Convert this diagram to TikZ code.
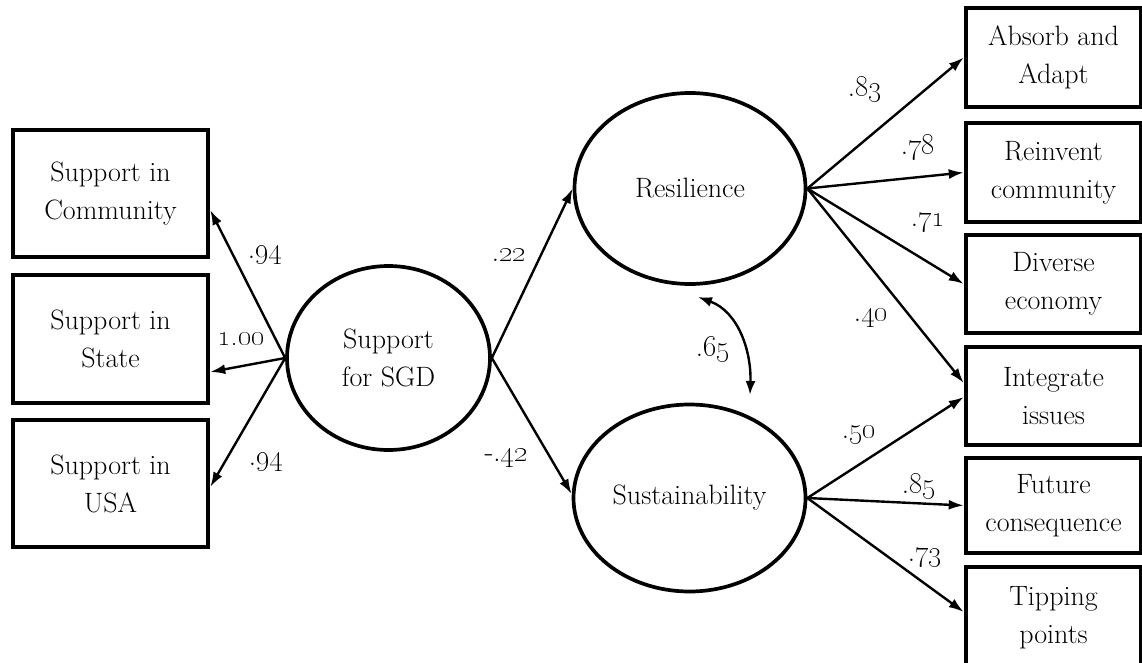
\documentclass[tikz,border=0pt]{standalone}
\usetikzlibrary{arrows.meta,shapes.geometric}
\newcommand{\osn}[1]{\oldstylenums{#1}}
\begin{document}
\begin{tikzpicture}[x=1pt,y=-1pt,
  txt/.style={font=\fontsize{28}{38}\selectfont, align=center},
  obs/.style={txt, draw, line width=4.5pt, rectangle, inner sep=0pt},
  lat/.style={txt, draw, line width=3.7pt, ellipse, inner sep=0pt},
  arr/.style={line width=2.4pt, -{Latex[length=15pt,width=10pt]}},
  darr/.style={line width=2.4pt, {Latex[length=14pt,width=10pt]}-{Latex[length=14pt,width=10pt]}},
  lab/.style={font=\fontsize{29}{30}\selectfont, inner sep=0pt}]
\useasboundingbox (0,0) rectangle (1142,663);
\clip (0,0) rectangle (1142,663);
% left indicators
\node[obs, minimum width=195pt, minimum height=127pt] (com) at (110.5,193.5) {Support in\\Community};
\node[obs, minimum width=195pt, minimum height=128pt] (sta) at (110.5,339) {Support in\\State};
\node[obs, minimum width=195pt, minimum height=127pt] (usa) at (110.5,483.5) {Support in\\USA};
% latent variables
\node[lat, minimum width=203pt, minimum height=184pt] (sgd) at (388.5,358) {Support\\for SGD};
\node[lat, minimum width=231pt, minimum height=191pt] (res) at (690,188.5) {Resilience};
\node[lat, minimum width=232pt, minimum height=187pt] (sus) at (689.5,498) {Sustainability};
% right indicators
\node[obs, minimum width=175pt, minimum height=99pt] (abs) at (1053.5,57.5) {Absorb and\\Adapt};
\node[obs, minimum width=175pt, minimum height=99pt] (rei) at (1053.5,172.5) {Reinvent\\community};
\node[obs, minimum width=175pt, minimum height=98pt] (div) at (1053.5,284) {Diverse\\economy};
\node[obs, minimum width=175pt, minimum height=98pt] (int) at (1053.5,396) {Integrate\\issues};
\node[obs, minimum width=175pt, minimum height=95pt] (fut) at (1053.5,505.5) {Future\\consequence};
\node[obs, minimum width=175pt, minimum height=101pt] (tip) at (1053.5,617.5) {Tipping\\points};
% measurement arrows (left)
\draw[arr] (sgd.west) -- ([yshift=-16.5pt]com.east);
\draw[arr] (sgd.west) -- ([yshift=-33pt]sta.east);
\draw[arr] (sgd.west) -- ([yshift=-3.5pt]usa.east);
% structural arrows
\draw[arr] (sgd.east) -- (res.west);
\draw[arr] (sgd.east) -- ([yshift=4pt]sus.west);
% resilience indicators
\draw[arr] (res.east) -- (abs.west);
\draw[arr] (res.east) -- (rei.west);
\draw[arr] (res.east) -- (div.west);
\draw[arr] (res.east) -- ([yshift=13pt]int.west);
% sustainability indicators
\draw[arr] (sus.east) -- ([yshift=-1pt]int.west);
\draw[arr] (sus.east) -- (fut.west);
\draw[arr] (sus.east) -- ([yshift=5.5pt]tip.west);
% correlation
\coordinate (c1) at (698,297);
\coordinate (c2) at (750,395);
\draw[darr] (c1) to[out=-20,in=88] (c2);
% labels
\node[lab] (l1) at (265,255) {.\osn{94}};
\node[lab] (l2) at (241,339) {\osn{1.00}};
\node[lab] (l3) at (266,462) {.\osn{94}};
\node[lab] (l4) at (509,255) {.\osn{22}};
\node[lab] (l5) at (506,458) {-.\osn{42}};
\node[lab] (l6) at (713,350) {.\osn{65}};
\node[lab] (l7) at (865,90) {.\osn{83}};
\node[lab] (l8) at (918,148) {.\osn{78}};
\node[lab] (l9) at (928,223) {.\osn{71}};
\node[lab] (l10) at (871,318) {.\osn{40}};
\node[lab] (l11) at (859,435) {.\osn{50}};
\node[lab] (l12) at (919,487) {.\osn{85}};
\node[lab] (l13) at (925,558) {.\osn{73}};
\end{tikzpicture}
\end{document}
